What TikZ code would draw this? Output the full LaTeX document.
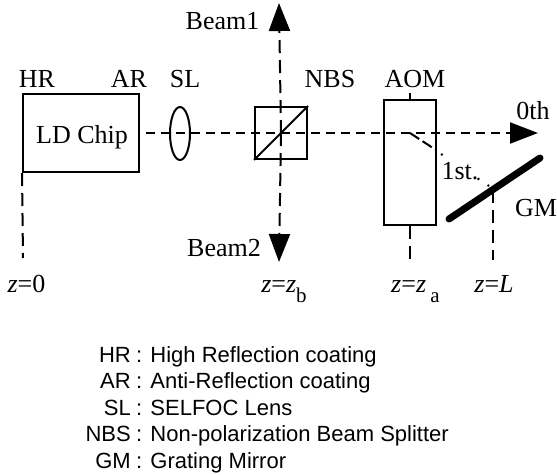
\documentclass[tikz,border=0pt]{standalone}
\usepackage{fontspec}
\setmainfont{Liberation Serif}
\setsansfont{Liberation Sans}
\usetikzlibrary{arrows.meta,shapes.geometric}

\tikzstyle{part} = [draw, line width=2pt, inner sep=0pt, text centered]
\tikzstyle{tag} = [draw=none, fill=none, inner sep=0pt, anchor=base, font=\fontsize{26}{26}\selectfont]
\tikzstyle{keyword} = [draw=none, fill=none, inner sep=0pt, anchor=base east, font=\sffamily\fontsize{22}{22}\selectfont]
\tikzstyle{meaning} = [draw=none, fill=none, inner sep=0pt, anchor=base west, font=\sffamily\fontsize{22}{22}\selectfont]
\tikzstyle{ray} = [line width=2pt, dash pattern=on 9pt off 6pt]
\tikzstyle{mark line} = [line width=2pt, dash pattern=on 13pt off 7pt]
\tikzstyle{big tip} = [-{Triangle[length=28pt,width=21pt]}]
\newcommand{\zlow}[1]{\raisebox{-10pt}{\fontsize{21}{21}\selectfont #1}}

\begin{document}
\begin{tikzpicture}[x=1pt, y=-1pt]
    \useasboundingbox (0,0) rectangle (557,474);

    \node[part, minimum width=116pt, minimum height=78pt] (chip) at (81,133) {};
    \node[part, ellipse, minimum width=20pt, minimum height=53pt] (lens) at (180,133.5) {};
    \node[part, minimum size=52pt] (nbs) at (281,133) {};
    \node[part, minimum width=52pt, minimum height=125pt] (aom) at (410,162.5) {};

    \node[tag] (chiptag) at (82,143) {LD Chip};
    \node[tag] (hrtag) at (37,87) {HR};
    \node[tag] (artag) at (129,87) {AR};
    \node[tag] (sltag) at (185,87) {SL};
    \node[tag] (nbstag) at (330,87) {NBS};
    \node[tag] (aomtag) at (415,87) {AOM};
    \node[tag] (beamonetag) at (222.5,29) {Beam1};
    \node[tag] (beamtwotag) at (224,256) {Beam2};
    \node[tag] (zerothtag) at (533,119) {0th};
    \node[tag] (firsttag) at (460,179) {1st.};
    \node[tag] (gmtag) at (536,216) {GM};
    \node[tag] (zzero) at (26.5,292) {\textit{z}=0};
    \node[tag] (zb) at (284,292) {\textit{z}=\textit{z}\zlow{b}};
    \node[tag] (za) at (415.5,292) {\textit{z}=\textit{z}\,\zlow{a}};
    \node[tag] (zl) at (494,292) {\textit{z}=\textit{L}};

    \coordinate (beamstart) at (146,133);
    \coordinate (zerothend) at (538,133);
    \coordinate (beamoneend) at (279,3);
    \coordinate (beamtwoend) at (279,262);
    \coordinate (aomcentre) at (410,133);
    \coordinate (aomexit) at (436,150);
    \coordinate (dotsstart) at (441,154);
    \coordinate (dotsend) at (489,186);
    \coordinate (gmlow) at (449,219);
    \coordinate (gmhigh) at (540,158);
    \coordinate (gmfoot) at (493,190);
    \coordinate (zzeroend) at (23,258);
    \coordinate (zaend) at (410,264);
    \coordinate (zlend) at (493,260);

    \draw[line width=2pt] (nbs.south west) -- (nbs.north east);
    \draw[ray, big tip] (beamstart) -- (zerothend);
    \draw[mark line, big tip] (nbs.center) -- (beamoneend);
    \draw[mark line, big tip] (nbs.center) -- (beamtwoend);
    \draw[line width=2pt, dash pattern=on 11pt off 4pt] (aomcentre) -- (aomexit);
    \draw[line width=2pt, dash pattern=on 2pt off 42pt on 2pt off 10pt] (dotsstart) -- (dotsend);
    \draw[line width=7pt, line cap=round] (gmlow) -- (gmhigh);
    \draw[line width=2pt] (aom.north) -- ++(0,-6);
    \draw[mark line] (chip.south west) -- (zzeroend);
    \draw[mark line] (aom.south) -- (zaend);
    \draw[mark line] (gmfoot) -- (zlend);

    \foreach \short/\long [count=\i] in {HR/High Reflection coating, AR/Anti-Reflection coating, SL/SELFOC Lens, NBS/Non-polarization Beam Splitter, GM/Grating Mirror} {
        \node[keyword] (key\i) at (131,335.5+26.5*\i) {\short};
        \node[meaning] (mean\i) at (136,335.5+26.5*\i) {: \long};
    }
\end{tikzpicture}
\end{document}
